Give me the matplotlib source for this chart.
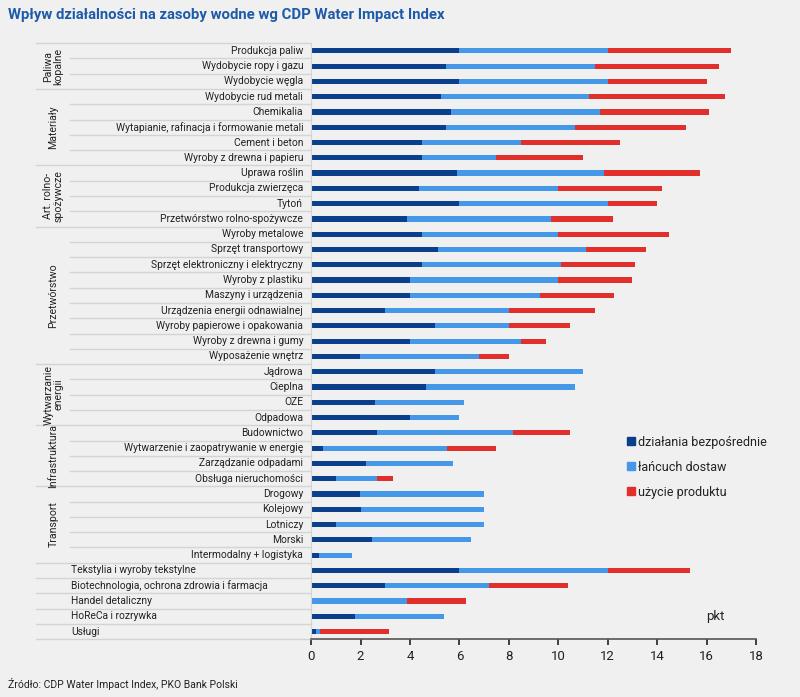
import matplotlib
matplotlib.use("Agg")
import matplotlib.pyplot as plt
from matplotlib.lines import Line2D
from matplotlib.patches import Patch
import numpy as np

plt.rcParams['font.family'] = ['Roboto', 'DejaVu Sans']

# kategorie od gory do dolu
kategorie = [
    "Produkcja paliw", "Wydobycie ropy i gazu", "Wydobycie węgla",
    "Wydobycie rud metali", "Chemikalia", "Wytapianie, rafinacja i formowanie metali",
    "Cement i beton", "Wyroby z drewna i papieru",
    "Uprawa roślin", "Produkcja zwierzęca", "Tytoń", "Przetwórstwo rolno-spożywcze",
    "Wyroby metalowe", "Sprzęt transportowy", "Sprzęt elektroniczny i elektryczny",
    "Wyroby z plastiku", "Maszyny i urządzenia", "Urządzenia energii odnawialnej",
    "Wyroby papierowe i opakowania", "Wyroby z drewna i gumy", "Wyposażenie wnętrz",
    "Jądrowa", "Cieplna", "OZE", "Odpadowa",
    "Budownictwo", "Wytwarzenie i zaopatrywanie w energię", "Zarządzanie odpadami",
    "Obsługa nieruchomości",
    "Drogowy", "Kolejowy", "Lotniczy", "Morski", "Intermodalny + logistyka",
    "Tekstylia i wyroby tekstylne", "Biotechnologia, ochrona zdrowia i farmacja",
    "Handel detaliczny", "HoReCa i rozrywka", "Usługi",
]

# skumulowane konce odcinkow
koniec_bezp = [6.0, 5.47, 6.0, 5.24, 5.65, 5.47, 4.49, 4.49,
               5.89, 4.38, 6.0, 3.87,
               4.49, 5.13, 4.49, 3.99, 3.99, 2.99, 4.99, 3.99, 1.98,
               4.99, 4.66, 2.59, 3.99,
               2.65, 0.47, 2.22, 1.0,
               1.98, 2.0, 1.0, 2.48, 0.31,
               6.0, 2.99, 0.0, 1.77, 0.18]
koniec_lanc = [12.0, 11.5, 12.0, 11.24, 11.67, 10.66, 8.49, 7.48,
               11.83, 10.0, 12.0, 9.69,
               10.0, 11.13, 10.12, 10.0, 9.25, 8.0, 7.99, 8.49, 6.79,
               10.98, 10.66, 6.19, 6.0,
               8.17, 5.49, 5.74, 2.65,
               6.98, 7.0, 7.0, 6.48, 1.64,
               12.0, 7.18, 3.89, 5.39, 0.36]
koniec_prod = [17.0, 16.5, 16.0, 16.74, 16.1, 15.16, 12.48, 10.98,
               15.74, 14.19, 13.99, 12.22,
               14.49, 13.56, 13.11, 12.99, 12.24, 11.48, 10.49, 9.49, 7.99,
               10.98, 10.66, 6.19, 6.0,
               10.49, 7.49, 5.74, 3.33,
               6.98, 7.0, 7.0, 6.48, 1.64,
               15.31, 10.39, 6.28, 5.39, 3.14]

grupy = ["Paliwa\nkopalne", "Materiały", "Art. rolno-\nspożywcze", "Przetwórstwo",
         "Wytwarzanie\nenergii", "Infrastruktura", "Transport", ""]
grupy_n = [3, 5, 4, 9, 4, 4, 5, 5]

C_BEZP = "#0a3f8c"
C_LANC = "#4597e8"
C_PROD = "#e1302b"
TLO = "#f0f0f0"
SIATKA = "#d4d4d4"


def main():
    bezp = np.array(koniec_bezp)
    lanc = np.array(koniec_lanc) - bezp
    prod = np.array(koniec_prod) - np.array(koniec_lanc)
    n = len(kategorie)
    y = np.arange(n)

    fig = plt.figure(figsize=(8, 6.97), dpi=100, facecolor=TLO)
    ax = fig.add_axes([0.389, 0.083, 0.556, 0.855], facecolor=TLO)

    h = 0.34
    ax.barh(y, bezp, height=h, color=C_BEZP)
    ax.barh(y, lanc, left=bezp, height=h, color=C_LANC)
    ax.barh(y, prod, left=bezp + lanc, height=h, color=C_PROD)

    ax.set_xlim(0, 18)
    ax.set_ylim(n - 0.5, -0.5)
    ax.set_xticks(np.arange(0, 19, 2))
    ax.tick_params(axis='x', labelsize=9.5, colors="#222222", length=4, width=1.2)
    ax.set_yticks([])
    for s in ["top", "right"]:
        ax.spines[s].set_visible(False)
    ax.spines["bottom"].set_color("#555555")
    ax.spines["bottom"].set_linewidth(1.2)
    ax.spines["left"].set_color(SIATKA)

    # linie i opisy w kolumnie kategorii (poza osia)
    trans = ax.get_yaxis_transform()
    x_grupa = (36 - 311) / 445
    x_wiersz = (70 - 311) / 445
    x_kon = -0.003

    ax.add_line(Line2D([x_grupa, x_kon], [-0.5, -0.5], transform=trans,
                       color=SIATKA, lw=1, clip_on=False))
    start = 0
    for g, cnt in zip(grupy, grupy_n):
        for k in range(cnt):
            r = start + k
            granica = r + 0.5
            ostatni = (k == cnt - 1) or g == ""
            x0 = x_grupa if ostatni else x_wiersz
            ax.add_line(Line2D([x0, x_kon], [granica, granica], transform=trans,
                               color=SIATKA, lw=1, clip_on=False))
            if g == "":
                ax.text((71 - 311) / 445, r, kategorie[r], transform=trans,
                        ha="left", va="center", fontsize=7.4, color="#222222")
            else:
                ax.text(-0.018, r, kategorie[r], transform=trans,
                        ha="right", va="center", fontsize=7.4, color="#222222")
        if g:
            ax.text((53 - 311) / 445, start + (cnt - 1) / 2, g, transform=trans,
                    rotation=90, ha="center", va="center", fontsize=7.6,
                    color="#222222", linespacing=1.0, multialignment="center")
        start += cnt

    uchwyty = [Patch(color=C_BEZP), Patch(color=C_LANC), Patch(color=C_PROD)]
    ax.legend(uchwyty, ["działania bezpośrednie", "łańcuch dostaw", "użycie produktu"],
              loc="upper left", bbox_to_anchor=(0.685, 0.36), frameon=False,
              fontsize=9, handlelength=0.6, handleheight=0.6, handletextpad=0.3,
              labelspacing=0.95, labelcolor="#222222")

    ax.text(16.0, 37, "pkt", fontsize=9.5, color="#222222", va="center")

    fig.text(0.01, 0.978, "Wpływ działalności na zasoby wodne wg CDP Water Impact Index",
             fontsize=10.7, fontweight="bold", color="#1d5aa8", va="center")
    fig.text(0.01, 0.019, "Źródło: CDP Water Impact Index, PKO Bank Polski",
             fontsize=7.5, color="#222222", va="center")

    fig.savefig("out.png", dpi=100, facecolor=TLO)


if __name__ == '__main__':
    main()
